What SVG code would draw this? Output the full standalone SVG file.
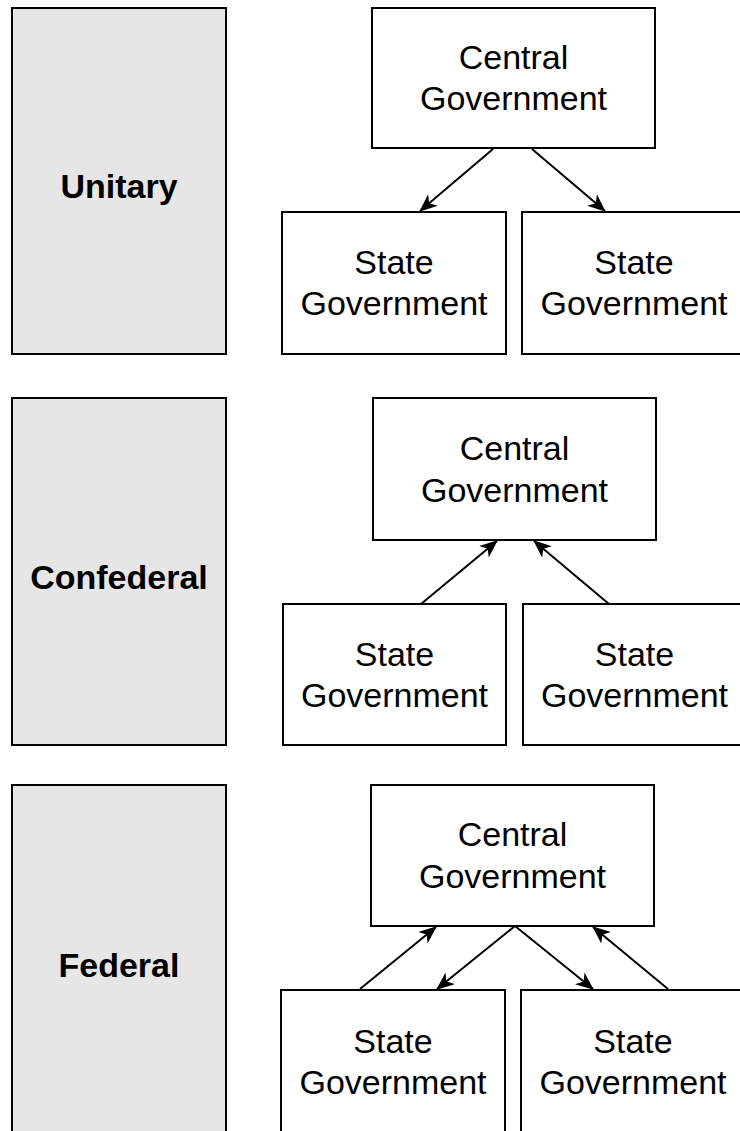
<svg xmlns="http://www.w3.org/2000/svg" width="740" height="1131" viewBox="0 0 740 1131">
<style>
.box{fill:#ffffff;stroke:#000000;stroke-width:2}
.label{fill:#e6e6e6;stroke:#000000;stroke-width:2}
.t{font-family:"Liberation Sans",Arial,Helvetica,sans-serif;font-size:34px;fill:#000000;text-anchor:middle}
.b{font-weight:bold}
.edge{stroke:#000000;stroke-width:2;fill:none;marker-end:url(#arrow)}
</style>
<defs>
<marker id="arrow" viewBox="0 0 18 15" refX="17" refY="7.5" markerWidth="18" markerHeight="15" markerUnits="userSpaceOnUse" orient="auto">
<path d="M0,0 L18,7.5 L0,15 L5,7.5 z" fill="#000000"/>
</marker>
</defs>
<rect width="740" height="1131" fill="#ffffff"/>

<g id="unitary-label"><rect class="label" x="12" y="8" width="214" height="346"/><text class="t b" x="119" y="198">Unitary</text></g>
<g id="unitary-central"><rect class="box" x="372" y="8" width="283" height="140"/><text class="t" x="513.5" y="69">Central</text><text class="t" x="513.5" y="110">Government</text></g>
<g id="unitary-state1"><rect class="box" x="282" y="212" width="224" height="142"/><text class="t" x="394" y="274">State</text><text class="t" x="394" y="315">Government</text></g>
<g id="unitary-state2"><rect class="box" x="522" y="212" width="224" height="142"/><text class="t" x="634" y="274">State</text><text class="t" x="634" y="315">Government</text></g>

<g id="confederal-label"><rect class="label" x="12" y="398" width="214" height="347"/><text class="t b" x="119" y="589">Confederal</text></g>
<g id="confederal-central"><rect class="box" x="373" y="398" width="283" height="142"/><text class="t" x="514.5" y="460">Central</text><text class="t" x="514.5" y="502">Government</text></g>
<g id="confederal-state1"><rect class="box" x="283" y="604" width="223" height="141"/><text class="t" x="394.5" y="666">State</text><text class="t" x="394.5" y="707">Government</text></g>
<g id="confederal-state2"><rect class="box" x="523" y="604" width="223" height="141"/><text class="t" x="634.5" y="666">State</text><text class="t" x="634.5" y="707">Government</text></g>

<g id="federal-label"><rect class="label" x="12" y="785" width="214" height="360"/><text class="t b" x="119" y="977">Federal</text></g>
<g id="federal-central"><rect class="box" x="371" y="785" width="283" height="141"/><text class="t" x="512.5" y="846">Central</text><text class="t" x="512.5" y="888">Government</text></g>
<g id="federal-state1"><rect class="box" x="281" y="990" width="224" height="160"/><text class="t" x="393" y="1053">State</text><text class="t" x="393" y="1094">Government</text></g>
<g id="federal-state2"><rect class="box" x="521" y="990" width="224" height="160"/><text class="t" x="633" y="1053">State</text><text class="t" x="633" y="1094">Government</text></g>

<g id="connectors">
<line class="edge" x1="493" y1="149" x2="420" y2="211"/>
<line class="edge" x1="532" y1="149" x2="605" y2="211"/>
<line class="edge" x1="421" y1="604" x2="497" y2="541"/>
<line class="edge" x1="609" y1="604" x2="534" y2="541"/>
<line class="edge" x1="360" y1="989" x2="436" y2="927"/>
<line class="edge" x1="515" y1="926" x2="437" y2="989"/>
<line class="edge" x1="515" y1="926" x2="593" y2="989"/>
<line class="edge" x1="668" y1="989" x2="593" y2="927"/>
</g>
</svg>
